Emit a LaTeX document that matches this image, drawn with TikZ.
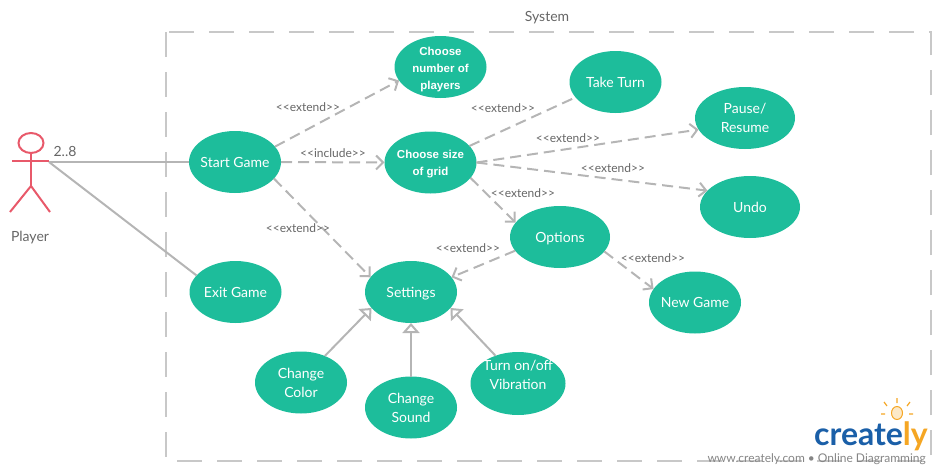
\documentclass[tikz,border=0pt]{standalone}
\usepackage{fontspec}
\setmainfont{Lato}
\newfontfamily\arialfont{Liberation Sans}
\usetikzlibrary{arrows.meta,shapes.geometric}

\definecolor{casegreen}{HTML}{1DBD9B}
\definecolor{linegray}{HTML}{B5B5B5}
\definecolor{boxgray}{HTML}{C8C8C8}
\definecolor{textgray}{HTML}{666666}
\definecolor{actorred}{HTML}{E8596A}
\definecolor{logoblue}{HTML}{1A5FA8}
\definecolor{logoorange}{HTML}{F5A623}

\newcommand{\extendtext}{<{}<extend>{}>}

\tikzset{
  usecase/.style={ellipse,fill=casegreen,text=white,minimum width=92pt,minimum height=62pt,inner sep=-12pt,outer sep=0pt,align=center,font=\fontsize{14}{19}\selectfont},
  oneline/.style={usecase,text height=13pt,text depth=3pt},
  smallcase/.style={usecase,font=\arialfont\bfseries\fontsize{11.5}{17}\selectfont},
  dashline/.style={draw=linegray,line width=2pt,dash pattern=on 11pt off 6pt},
  extendline/.style={dashline,-{Straight Barb[length=7pt,width=14pt,line width=2pt]}},
  plainline/.style={draw=linegray,line width=2pt},
  genline/.style={draw=linegray,line width=2pt,-{Triangle[fill=white,length=10pt,width=17pt,line width=2pt]}},
  stereo/.style={text=textgray,inner sep=0pt,font=\fontsize{12}{14}\selectfont},
  plaintext/.style={text=textgray,inner sep=0pt,text height=13pt,text depth=3pt,font=\fontsize{14}{16}\selectfont},
  actorline/.style={draw=actorred,line width=2pt}
}

\begin{document}
\begin{tikzpicture}[x=1pt,y=-1pt]
\useasboundingbox (0,0) rectangle (940,471);

% system boundary
\draw[boxgray,line width=2pt,dash pattern=on 25pt off 15pt] (166,32) rectangle (931,461);
\node[plaintext] (system) at (547,16) {System};

% player
\node[ellipse,draw=actorred,line width=2pt,minimum width=25pt,minimum height=20pt,inner sep=0pt] (head) at (31,143) {};
\coordinate (hip) at (31,186);
\coordinate (handl) at (12,161);
\coordinate (handr) at (49,161);
\coordinate (linestart) at (49,162);
\coordinate (footl) at (10,212);
\coordinate (footr) at (50,212);
\draw[actorline] (head) -- (hip);
\draw[actorline] (handl) -- (handr);
\draw[actorline] (footl) -- (hip) -- (footr);
\node[plaintext] (player) at (30,236) {Player};
\node[plaintext] (mult) at (65,151) {2..8};

% use cases
\node[oneline] (startgame) at (235,162) {Start Game};
\node[oneline] (exitgame) at (235.5,292) {Exit Game};
\node[smallcase] (choosenum) at (440.5,67) {\rule{0pt}{13pt}Choose\\number of\\players};
\node[smallcase] (choosesize) at (430.5,162.5) {\rule{0pt}{11pt}Choose size\\of grid};
\node[oneline] (taketurn) at (615.5,82) {Take Turn};
\node[usecase,minimum width=100pt] (pause) at (745,118) {Pause/\\Resume};
\node[oneline,minimum width=100pt] (undo) at (750,207) {Undo};
\node[oneline,minimum width=100pt] (options) at (560,237) {Options};
\node[oneline] (settings) at (411,292) {Settings};
\node[oneline] (newgame) at (695,302.5) {New Game};
\node[usecase] (color) at (301,382.5) {Change\\Color};
\node[usecase] (sound) at (411,407.5) {Change\\Sound};
\node[usecase,minimum width=95pt,minimum height=63pt] (vibration) at (518,383.5) {Turn on/off\\Vibration\\[-2pt]\mbox{}};

% connectors
\draw[plainline] (linestart) -- (startgame.west);
\draw[plainline] (linestart) -- (exitgame.157);
\draw[extendline] (startgame.21) -- (choosenum.198);
\draw[extendline] (startgame.east) -- (choosesize.west);
\draw[extendline] (startgame.337) -- (settings.160);
\draw[dashline] (choosesize.23) -- (taketurn.201);
\draw[extendline] (choosesize.east) -- (pause.194);
\draw[extendline] (choosesize.east) -- (undo.159);
\draw[extendline] (choosesize.339) -- (options.162);
\draw[extendline] (options.197) -- (settings.20);
\draw[extendline] (options.342) -- (newgame.162);
\draw[genline] (color.48) -- (settings.202);
\draw[genline] (sound.north) -- (settings.south);
\draw[genline] (vibration.129) -- (settings.338);

% stereotypes
\node[stereo] (l1) at (308,107) {\extendtext};
\node[stereo] (l2) at (333,153) {<{}<include>{}>};
\node[stereo] (l3) at (298,228) {\extendtext};
\node[stereo] (l4) at (503,108) {\extendtext};
\node[stereo] (l5) at (568,138) {\extendtext};
\node[stereo] (l6) at (613,168) {\extendtext};
\node[stereo] (l7) at (523,193) {\extendtext};
\node[stereo] (l8) at (468,248) {\extendtext};
\node[stereo] (l9) at (653,258) {\extendtext};

% logo
\node[inner sep=0pt,anchor=base east,font=\bfseries\fontsize{32}{34}\selectfont] (logo) at (928,445) {\textcolor{logoblue}{create}\textcolor{logoorange}{ly}};
\node[ellipse,draw=logoorange,fill=logoorange!25,line width=1pt,minimum width=11pt,minimum height=13pt,inner sep=0pt] (bulb) at (897,413) {};
\draw[logoorange,line width=1.2pt] (897,403) -- (897,398) (887,406) -- (884,402) (907,406) -- (910,402) (885,414) -- (881,414) (909,414) -- (913,414);
\node[text=textgray!80,inner sep=0pt,anchor=base east,font=\fontsize{12}{13}\selectfont] (tagline) at (926,462) {www.creately.com • Online Diagramming};
\end{tikzpicture}
\end{document}
